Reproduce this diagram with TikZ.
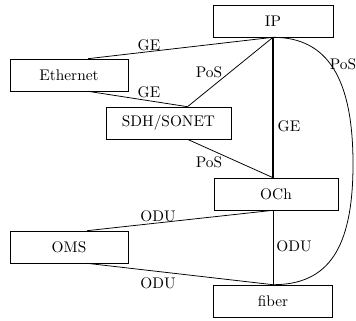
\documentclass[tikz,border=0pt]{standalone}
\usetikzlibrary{calc}
\begin{document}
\begin{tikzpicture}[x=0.65pt,y=-0.65pt,
  box/.style={draw, minimum height=20.8pt, inner sep=0pt},
  lbl/.style={inner sep=0pt},
  link/.style={line width=0.5pt},
  heavylink/.style={line width=1.2pt}]
\useasboundingbox (0,0) rectangle (356,320);
% boxes
\node[box, minimum width=78pt]    (ip)    at (273,21)    {IP};
\node[box, minimum width=76.7pt]  (eth)   at (69,75)     {Ethernet};
\node[box, minimum width=81.25pt] (sdh)   at (168.5,123) {SDH/SONET};
\node[box, minimum width=80.6pt]  (och)   at (276,194)   {OCh};
\node[box, minimum width=76.7pt]  (oms)   at (69,247)    {OMS};
\node[box, minimum width=77.35pt] (fiber) at (273,301)   {fiber};
% attachment points
\coordinate (ethN) at ($(eth.north)+(19,0)$);
\coordinate (ethS) at ($(eth.south)+(19,0)$);
\coordinate (sdhN) at ($(sdh.north)+(19,0)$);
\coordinate (sdhS) at ($(sdh.south)+(19,0)$);
\coordinate (ochN) at ($(och.north)+(-3,0)$);
\coordinate (ochS) at ($(och.south)+(-3,0)$);
\coordinate (omsN) at ($(oms.north)+(18,0)$);
\coordinate (omsS) at ($(oms.south)+(18,0)$);
\coordinate (bulge) at (353,164);
% connectors
\draw[link] (ethN) -- (ip.south);
\draw[link] (ethS) -- (sdhN);
\draw[link] (ip.south) -- (sdhN);
\draw[link] (sdhS) -- (ochN);
\draw[heavylink] (ip.south) -- (ochN);
\draw[link] (ochS) -- (omsN);
\draw[link] (omsS) -- (fiber.north);
\draw[link] (ochS) -- (fiber.north);
\draw[link] (ip.south) .. controls +(55,0) and +(0,-85) .. (bulge)
            .. controls +(0,85) and +(55,0) .. (fiber.north);
% labels
\node[lbl] (l1) at (149,45)  {GE};
\node[lbl] (l2) at (149,92)  {GE};
\node[lbl] (l3) at (209,72)  {PoS};
\node[lbl] (l4) at (209,162) {PoS};
\node[lbl] (l5) at (289,126) {GE};
\node[lbl] (l6) at (343,64)  {PoS};
\node[lbl] (l7) at (158,216) {ODU};
\node[lbl] (l8) at (158,283) {ODU};
\node[lbl] (l9) at (294,246) {ODU};
\end{tikzpicture}
\end{document}
